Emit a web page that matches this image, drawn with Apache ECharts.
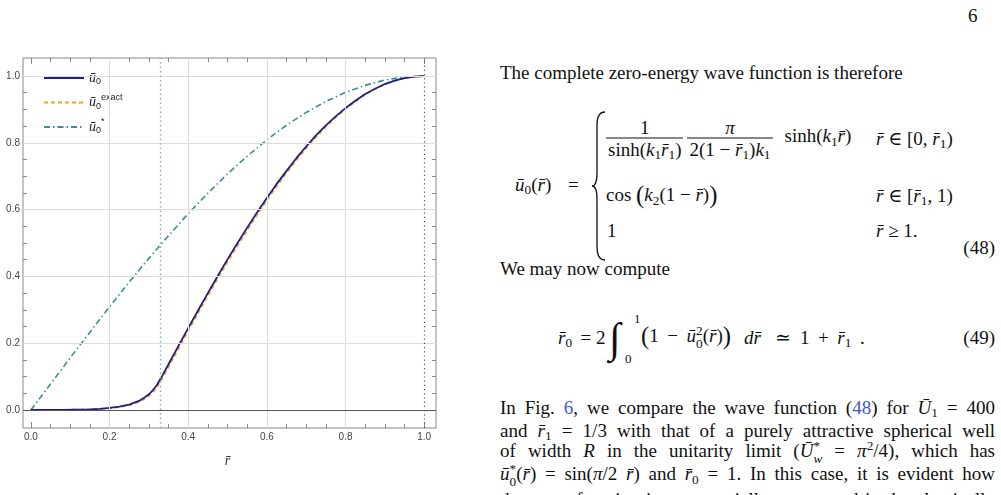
<!DOCTYPE html>
<html>
<head>
<meta charset="utf-8">
<script src="https://cdn.jsdelivr.net/npm/echarts@6/dist/echarts.min.js"></script>
<style>
html, body { margin: 0; padding: 0; background: #fff; overflow: hidden; }
#page { position: relative; width: 1001px; height: 495px; overflow: hidden;
        font-family: "Liberation Serif", "DejaVu Serif", serif; color: #111; }
#chart { position: absolute; left: 0; top: 0; width: 470px; height: 495px; }
.t { position: absolute; white-space: nowrap; font-size: 19px; line-height: 1; }
.mid { transform: translateY(-50%); }
i { font-style: italic; }
sub, sup { font-size: 70%; line-height: 0; }
sub { vertical-align: -0.3em; }
sup { vertical-align: 0.5em; }
.ss { display: inline-block; vertical-align: -0.45em; font-size: 70%; line-height: 0.95; text-align: left; }
.ss span { display: block; }
.frac { display: inline-block; vertical-align: middle; text-align: center; }
.frac > span { display: block; padding: 1px 2px; }
.frac > span.num { border-bottom: 1px solid #111; }
.just { position: absolute; left: 500px; width: 495px; font-size: 19px; line-height: 1;
        text-align: justify; text-align-last: justify; white-space: nowrap; }
a { color: #3d5cc7; text-decoration: none; }
.big { font-size: 130%; vertical-align: -0.08em; }
.sp { display: inline-block; width: 0.2em; }
.gap { display: inline-block; }
</style>
</head>
<body>
<div id="page">
  <div id="chart"></div>

  <div class="t mid" style="left:968px; top:15px;">6</div>

  <div class="t mid" style="left:500px; top:72px;">The complete zero-energy wave function is therefore</div>

  <!-- eq 48 -->
  <div class="t mid" style="left:515px; top:184px;"><i>ū</i><sub>0</sub>(<i>r̄</i>)</div>
  <div class="t mid" style="left:568px; top:184px;">=</div>
  <svg style="position:absolute; left:591px; top:111px;" width="16" height="150">
    <path d="M14,1 Q6,1 6,14 L6,62 Q6,75 1,75 Q6,75 6,88 L6,136 Q6,149 14,149" fill="none" stroke="#111" stroke-width="1.3"/>
  </svg>
  <div class="t mid" style="left:606px; top:138px;"><span class="frac"><span class="num">1</span><span>sinh(<i>k</i><sub>1</sub><i>r̄</i><sub>1</sub>)</span></span><span class="gap" style="width:4px"></span><span class="frac"><span class="num"><i>π</i></span><span>2(1 − <i>r̄</i><sub>1</sub>)<i>k</i><sub>1</sub></span></span><span class="gap" style="width:12px"></span>sinh(<i>k</i><sub>1</sub><i>r̄</i>)</div>
  <div class="t mid" style="left:876px; top:138px;"><i>r̄</i> ∈ [0, <i>r̄</i><sub>1</sub>)</div>
  <div class="t mid" style="left:606px; top:195px;">cos <span class="big">(</span><i>k</i><sub>2</sub>(1 − <i>r̄</i>)<span class="big">)</span></div>
  <div class="t mid" style="left:876px; top:195px;"><i>r̄</i> ∈ [<i>r̄</i><sub>1</sub>, 1)</div>
  <div class="t mid" style="left:607px; top:230px;">1</div>
  <div class="t mid" style="left:876px; top:230px;"><i>r̄</i> ≥ 1.</div>
  <div class="t mid" style="right:6px; top:247px;">(48)</div>

  <div class="t mid" style="left:500px; top:268px;">We may now compute</div>

  <!-- eq 49 -->
  <div class="t mid" style="left:558px; top:337px;"><i>r̄</i><sub>0</sub><span class="sp"></span> = 2</div>
  <div class="t mid" style="left:609px; top:338px; font-size:42px;"><i>∫</i></div>
  <div class="t mid" style="left:634px; top:318px; font-size:13px;">1</div>
  <div class="t mid" style="left:625px; top:358px; font-size:13px;">0</div>
  <div class="t mid" style="left:641px; top:337px;"><span class="big">(</span>1<span class="sp"></span> − <span class="sp"></span><i>ū</i><span class="ss"><span>2</span><span>0</span></span>(<i>r̄</i>)<span class="big">)</span></div>
  <div class="t mid" style="left:744px; top:337px;"><i>dr̄</i></div>
  <div class="t mid" style="left:775px; top:337px;">≃</div>
  <div class="t mid" style="left:800px; top:337px;">1<span class="sp"></span> + <span class="sp"></span><i>r̄</i><sub>1</sub> <span class="sp"></span>.</div>
  <div class="t mid" style="right:6px; top:337px;">(49)</div>

  <!-- paragraph -->
  <div class="just mid" style="top:407px;">In Fig. <a>6</a>, we compare the wave function (<a>48</a>) for <i>Ū</i><sub>1</sub> = 400</div>
  <div class="just mid" style="top:430px;">and <i>r̄</i><sub>1</sub> = 1/3 with that of a purely attractive spherical well</div>
  <div class="just mid" style="top:453px;">of width <i>R</i> in the unitarity limit (<i>Ū</i><span class="ss"><span>*</span><span><i>w</i></span></span> = <i>π</i><sup>2</sup>/4), which has</div>
  <div class="just mid" style="top:476px;"><i>ū</i><span class="ss"><span>*</span><span>0</span></span>(<i>r̄</i>) = sin(<i>π</i>/2 <i>r̄</i>) and <i>r̄</i><sub>0</sub> = 1. In this case, it is evident how</div>
  <div class="just mid" style="top:499px;">the wave function is exponentially suppressed in the classically</div>
</div>

<script>
// values
var rMain = [0, 0.05, 0.1, 0.15, 0.175, 0.2, 0.225, 0.25, 0.275, 0.29, 0.3, 0.31, 0.32, 0.333,
             0.35, 0.375, 0.4, 0.425, 0.45, 0.475, 0.5, 0.525, 0.55, 0.575, 0.6, 0.625, 0.65, 0.675,
             0.7, 0.725, 0.75, 0.775, 0.8, 0.825, 0.85, 0.875, 0.9, 0.925, 0.95, 0.975, 1.0];
var u0 = [0, 0.0003, 0.0008, 0.002, 0.0035, 0.006, 0.0100, 0.016, 0.027, 0.038, 0.047, 0.059, 0.074, 0.100,
          0.137, 0.191, 0.245, 0.298, 0.350, 0.401, 0.451, 0.499, 0.546, 0.591, 0.635, 0.677, 0.716, 0.754,
          0.789, 0.822, 0.852, 0.879, 0.904, 0.926, 0.946, 0.962, 0.976, 0.986, 0.994, 0.998, 1.0];
var u0exact = [0, 0.0002, 0.0007, 0.0018, 0.003, 0.005, 0.0088, 0.014, 0.024, 0.034, 0.042, 0.053, 0.067, 0.092,
               0.129, 0.183, 0.237, 0.290, 0.342, 0.393, 0.443, 0.491, 0.538, 0.584, 0.628, 0.670, 0.710, 0.748,
               0.784, 0.817, 0.848, 0.876, 0.901, 0.924, 0.944, 0.961, 0.975, 0.986, 0.994, 0.998, 1.0];
var rStar = [0, 0.05, 0.1, 0.15, 0.2, 0.25, 0.3, 0.35, 0.4, 0.45, 0.5, 0.55, 0.6, 0.65, 0.7,
             0.75, 0.8, 0.85, 0.9, 0.95, 1.0];
var u0star = [0, 0.078, 0.156, 0.233, 0.309, 0.383, 0.454, 0.522, 0.588, 0.649, 0.707, 0.760, 0.809,
              0.853, 0.891, 0.924, 0.951, 0.972, 0.988, 0.997, 1.0];
var gridXVals = [0.2, 0.4, 0.6, 0.8];
var gridYVals = [0.2, 0.4, 0.6, 0.8, 1.0];
var r1 = 1 / 3;
var seriesNames = ['u0', 'u0exact', 'u0star'];

function zip(xs, ys) {
  var out = [];
  for (var i = 0; i < xs.length; i++) out.push([xs[i], ys[i]]);
  return out;
}

// frame box (pixels) and the data range it shows
var W = 470, H = 495;
var frame = { left: 23, top: 58, width: 413, height: 370 };
var xr = [-0.02, 1.03], yr = [-0.054, 1.054];
function px(x) { return frame.left + (x - xr[0]) / (xr[1] - xr[0]) * frame.width; }
function py(y) { return frame.top + (yr[1] - y) / (yr[1] - yr[0]) * frame.height; }

var frameCol = '#888';
var labelCol = '#444';
var tickFmt = function (v) { return v.toFixed(1); };

var inner = { left: px(0), top: py(1), right: W - px(1), bottom: H - py(0) };
var offBottom = frame.top + frame.height - py(0);
var offTop = py(1) - frame.top;
var offLeft = px(0) - frame.left;
var offRight = frame.left + frame.width - px(1);

function tickAxis(extra) {
  var a = {
    gridIndex: 1, type: 'value', min: 0, max: 1, interval: 0.2,
    axisLine: { show: false, onZero: false },
    axisTick: { inside: true, length: 6, lineStyle: { color: frameCol } },
    minorTick: { show: true, splitNumber: 4, length: 4, lineStyle: { color: frameCol } },
    splitLine: { show: false },
    axisLabel: { show: false }
  };
  for (var k in extra) a[k] = extra[k];
  return a;
}

var gridLines = [];
gridXVals.forEach(function (v) { gridLines.push({ xAxis: v }); });
gridYVals.forEach(function (v) { gridLines.push({ yAxis: v }); });
gridLines.push({ yAxis: 0, lineStyle: { color: '#555', width: 1, type: 'solid' } });
gridLines.push({ xAxis: r1, lineStyle: { color: '#6dbba9', width: 1.4, type: [1.5, 3] } });
gridLines.push({ xAxis: 1, lineStyle: { color: '#555', width: 1.2, type: [1.2, 3] } });

var chart = echarts.init(document.getElementById('chart'));
chart.setOption({
  animation: false,
  grid: [
    { left: frame.left, top: frame.top, width: frame.width, height: frame.height,
      show: true, borderColor: frameCol, borderWidth: 1, backgroundColor: 'transparent',
      outerBoundsMode: 'none' },
    { left: inner.left, top: inner.top, right: inner.right, bottom: inner.bottom,
      outerBoundsMode: 'none' }
  ],
  xAxis: [
    { gridIndex: 0, type: 'value', min: xr[0], max: xr[1], show: false },
    tickAxis({
      position: 'bottom', offset: offBottom,
      axisLabel: { show: true, margin: 4, fontSize: 10, color: labelCol,
                   fontFamily: 'Liberation Sans', formatter: tickFmt },
      name: 'r̄', nameLocation: 'middle', nameGap: 26,
      nameTextStyle: { fontFamily: 'Liberation Serif', fontStyle: 'italic', fontSize: 14, color: '#333' }
    }),
    tickAxis({ position: 'top', offset: offTop })
  ],
  yAxis: [
    { gridIndex: 0, type: 'value', min: yr[0], max: yr[1], show: false },
    tickAxis({
      position: 'left', offset: offLeft,
      axisLabel: { show: true, margin: 3, fontSize: 10, color: labelCol,
                   fontFamily: 'Liberation Sans', formatter: tickFmt }
    }),
    tickAxis({ position: 'right', offset: offRight })
  ],
  legend: {
    data: seriesNames,
    orient: 'vertical',
    left: 38, top: 66,
    itemWidth: 40, itemHeight: 14, itemGap: 6.5,
    itemStyle: { opacity: 0 },
    formatter: function (name) {
      if (name === 'u0') return '{u|ū}{s|0}';
      if (name === 'u0exact') return '{u|ū}{s|0}{e|exact}';
      return '{u|ū}{s|0}{e|*}';
    },
    textStyle: {
      rich: {
        u: { fontFamily: 'Liberation Serif', fontStyle: 'italic', fontSize: 14, color: '#222' },
        s: { fontFamily: 'Liberation Sans', fontSize: 9, color: '#222', padding: [8, 0, 0, 0] },
        e: { fontFamily: 'Liberation Sans', fontSize: 9, color: '#222', padding: [0, 0, 10, 0] }
      }
    }
  },
  series: [
    {
      type: 'line', name: 'gridlines', xAxisIndex: 0, yAxisIndex: 0, z: 1,
      data: [[0, 0]], showSymbol: false, symbol: 'none', lineStyle: { opacity: 0 },
      silent: true,
      markLine: {
        silent: true, symbol: 'none', label: { show: false },
        lineStyle: { color: '#dcdcdc', width: 1, type: 'solid' },
        data: gridLines
      }
    },
    {
      type: 'line', name: 'u0star', xAxisIndex: 0, yAxisIndex: 0, z: 3,
      data: zip(rStar, u0star),
      symbol: 'none', showSymbol: false,
      lineStyle: { color: '#35908f', width: 1.6, type: [6, 3, 1.5, 3] },
      itemStyle: { color: '#35908f' }
    },
    {
      type: 'line', name: 'u0exact', xAxisIndex: 0, yAxisIndex: 0, z: 3,
      data: zip(rMain, u0exact),
      symbol: 'none', showSymbol: false,
      lineStyle: { color: '#f2a516', width: 1.8, type: [4, 3] },
      itemStyle: { color: '#f2a516' }
    },
    {
      type: 'line', name: 'u0', xAxisIndex: 0, yAxisIndex: 0, z: 4,
      data: zip(rMain, u0),
      symbol: 'none', showSymbol: false,
      lineStyle: { color: '#1e1e88', width: 1.8 },
      itemStyle: { color: '#1e1e88' }
    }
  ]
});
</script>
</body>
</html>
